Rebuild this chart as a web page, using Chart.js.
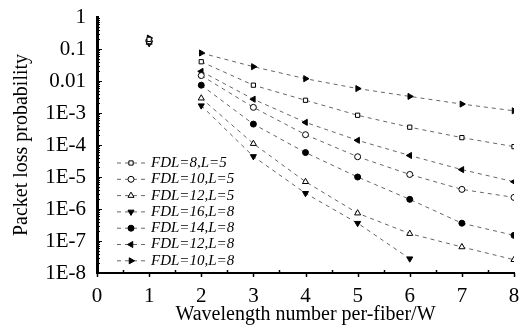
<!DOCTYPE html>
<html>
<head>
<meta charset="utf-8">
<script src="https://cdn.jsdelivr.net/npm/chart.js@4.4.0/dist/chart.umd.min.js"></script>
<style>
  html, body { margin: 0; padding: 0; background: #fff; }
  #wrap { width: 526px; height: 331px; }
</style>
</head>
<body>
<div id="wrap"><canvas id="chart" width="526" height="331"></canvas></div>
<script>
const serif = "'Liberation Serif', 'Times New Roman', serif"

// wavelengths per fiber (x) and tick labels
const wavelengths = [1, 2, 3, 4, 5, 6, 7, 8]
const xTickLabels = ['0', '1', '2', '3', '4', '5', '6', '7', '8']
const yTickLabels = ['1', '0.1', '0.01', '1E-3', '1E-4', '1E-5', '1E-6', '1E-7', '1E-8']

// packet loss probability
const fdl8L5 = [0.2, 0.040, 0.0074, 0.0025, 8.5e-4, 3.6e-4, 1.7e-4, 8.9e-5]
const fdl10L5 = [0.18, 0.0148, 1.5e-3, 2.1e-4, 4.3e-5, 1.2e-5, 4.1e-6, 2.3e-6]
const fdl12L5 = [0.16, 2.9e-3, 1.1e-4, 7.1e-6, 7.4e-7, 1.7e-7, 6.5e-8, 2.6e-8]
const fdl16L8 = [0.15, 1.7e-3, 4.4e-5, 3.1e-6, 3.6e-7, 2.8e-8, null, null]
const fdl14L8 = [0.17, 7.4e-3, 4.5e-4, 5.8e-5, 1.0e-5, 2.0e-6, 3.6e-7, 1.5e-7]
const fdl12L8 = [0.19, 0.020, 2.7e-3, 5.1e-4, 1.4e-4, 4.7e-5, 1.7e-5, 7.1e-6]
const fdl10L8 = [0.22, 0.075, 0.028, 0.0118, 0.0058, 0.0033, 0.0019, 0.00117]

const seriesNames = ['FDL=8,L=5', 'FDL=10,L=5', 'FDL=12,L=5', 'FDL=16,L=8', 'FDL=14,L=8', 'FDL=12,L=8', 'FDL=10,L=8']
const seriesValues = [fdl8L5, fdl10L5, fdl12L5, fdl16L8, fdl14L8, fdl12L8, fdl10L8]

// marker per series: style, rotation, filled?
const markers = [
    { style: 'rect', rot: 0, fill: false, r: 3 },
    { style: 'circle', rot: 0, fill: false, r: 3 },
    { style: 'triangle', rot: 0, fill: false, r: 3.5 },
    { style: 'triangle', rot: 180, fill: true, r: 3.5 },
    { style: 'circle', rot: 0, fill: true, r: 3 },
    { style: 'triangle', rot: 270, fill: true, r: 3.5 },
    { style: 'triangle', rot: 90, fill: true, r: 3.5 },
]

const datasets = seriesNames.map((name, i) => ({
    label: name,
    data: wavelengths.map((w, j) => ({ x: w, y: seriesValues[i][j] })),
    borderColor: '#666',
    borderWidth: 1,
    borderDash: [4, 4],
    pointStyle: markers[i].style,
    pointRotation: markers[i].rot,
    pointRadius: markers[i].r,
    pointBorderColor: '#000',
    pointBorderWidth: 1,
    pointBackgroundColor: markers[i].fill ? '#000' : '#fff',
    spanGaps: false,
    segment: {
        // the 1 -> 2 segments are not visible in the original
        borderColor: ctx => ctx.p0.parsed.x === 1 ? 'rgba(0,0,0,0)' : undefined
    }
}))

// draws the small inside ticks on both axes
const axisTicks = {
    id: 'axisTicks',
    afterDraw(chart) {
        const c = chart.ctx
        const xs = chart.scales.x
        const ys = chart.scales.y
        const a = chart.chartArea
        c.save()
        c.strokeStyle = '#000'
        c.lineWidth = 1.5
        for (let v = 0; v <= 8; v += 0.5) {
            const px = Math.round(xs.getPixelForValue(v)) + 0.5
            const major = v % 1 === 0
            c.beginPath()
            if (major) { c.moveTo(px, a.bottom); c.lineTo(px, a.bottom + 4) }
            else { c.moveTo(px, a.bottom); c.lineTo(px, a.bottom - 3) }
            c.stroke()
        }
        c.lineWidth = 1
        for (let e = 0; e >= -8; e--) {
            for (let m = 1; m <= 9; m++) {
                const v = m * Math.pow(10, e - 1)
                if (v < 1e-8 || v > 1) continue
                const py = Math.round(ys.getPixelForValue(v)) + 0.5
                c.beginPath()
                c.moveTo(a.left, py)
                c.lineTo(a.left + (m === 1 ? 5 : 3), py)
                c.stroke()
            }
        }
        c.restore()
    }
}

// legend inside the plot area, lower left
const insideLegend = {
    id: 'insideLegend',
    afterDraw(chart) {
        const c = chart.ctx
        c.save()
        chart.data.datasets.forEach((ds, i) => {
            const y = 163 + i * 16.3
            c.strokeStyle = '#666'
            c.lineWidth = 1
            c.setLineDash([4, 4])
            c.beginPath()
            c.moveTo(117, y)
            c.lineTo(145, y)
            c.stroke()
            c.setLineDash([])
            c.fillStyle = ds.pointBackgroundColor
            c.strokeStyle = '#000'
            Chart.helpers.drawPoint(c, {
                pointStyle: ds.pointStyle,
                rotation: ds.pointRotation,
                radius: ds.pointRadius,
                borderWidth: 1
            }, 131, y)
            c.fillStyle = '#000'
            c.font = 'italic 15px ' + serif
            c.textBaseline = 'middle'
            c.fillText(ds.label, 151, y)
        })
        c.restore()
    }
}

const ctx = document.getElementById('chart').getContext('2d')
const chart = new Chart(ctx, {
    type: 'line',
    data: { datasets },
    options: {
        responsive: false,
        animation: false,
        layout: { padding: { top: 17, right: 12, bottom: 0, left: 6 } },
        plugins: {
            legend: { display: false },
            tooltip: { enabled: false }
        },
        scales: {
            x: {
                type: 'linear',
                min: 0,
                max: 8,
                grid: { display: false },
                border: { display: true, color: '#000', width: 2 },
                ticks: {
                    stepSize: 1,
                    color: '#000',
                    padding: 3,
                    font: { family: serif, size: 21 },
                    callback: v => xTickLabels[v]
                },
                title: {
                    display: true,
                    text: 'Wavelength number per-fiber/W',
                    color: '#000',
                    padding: { top: 0 },
                    font: { family: serif, size: 20 }
                },
                afterFit: s => { s.height = 58 }
            },
            y: {
                type: 'logarithmic',
                min: 1e-8,
                max: 1,
                grid: { display: false },
                border: { display: true, color: '#000', width: 3 },
                afterBuildTicks: s => {
                    s.ticks = yTickLabels.map((_, i) => ({ value: Math.pow(10, -i) }))
                },
                ticks: {
                    color: '#000',
                    padding: 3,
                    font: { family: serif, size: 21 },
                    callback: v => yTickLabels[Math.round(-Math.log10(v))]
                },
                title: {
                    display: true,
                    text: 'Packet loss probability',
                    color: '#000',
                    padding: { bottom: 0 },
                    font: { family: serif, size: 20 }
                },
                afterFit: s => { s.width = 91 }
            }
        }
    },
    plugins: [axisTicks, insideLegend]
})
</script>
</body>
</html>
